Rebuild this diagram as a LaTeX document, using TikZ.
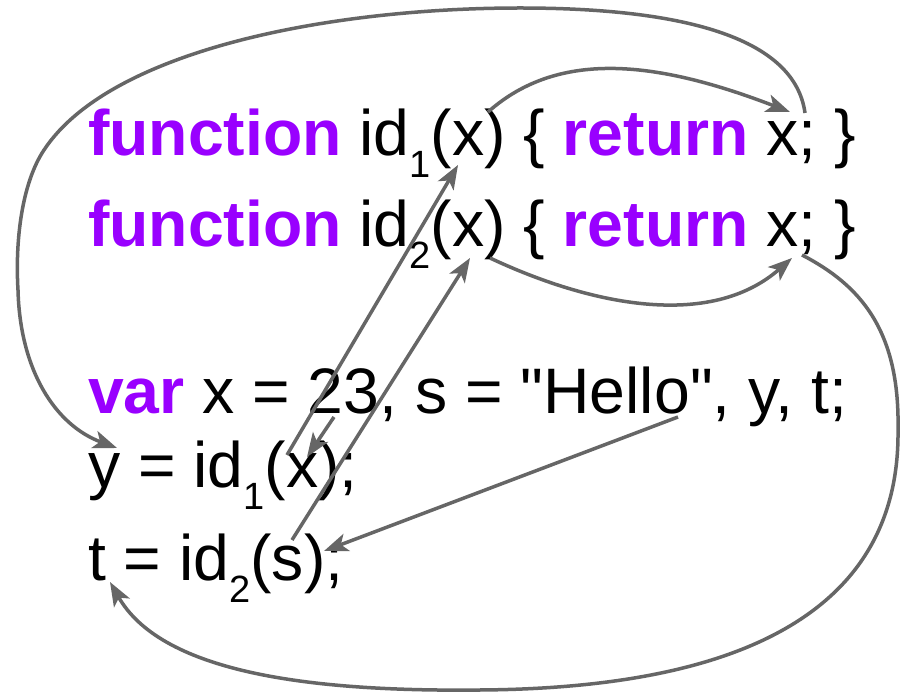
\documentclass[tikz,border=0pt]{standalone}
\usepackage{fontspec}
\setmainfont{Liberation Sans}[Ligatures=TeXOff]
\usetikzlibrary{arrows.meta}
\definecolor{kwpurple}{HTML}{9900FF}
\definecolor{arrowgray}{HTML}{666666}
\newcommand\kw[1]{\textcolor{kwpurple}{\bfseries #1}}
\newcommand\sbs[1]{\raisebox{-22pt}{\fontsize{38}{38}\selectfont #1}}
\tikzset{
  codeline/.style={anchor=base west, inner sep=0pt, font=\fontsize{64.3}{70}\selectfont},
  flow/.style={draw=arrowgray, line width=3.5pt, -{Stealth[length=24pt,width=18pt,inset=6pt]}}
}
\begin{document}
\begin{tikzpicture}[x=1pt,y=-1pt]
\useasboundingbox (0,0) rectangle (903,692);
\fill[white] (0,0) rectangle (903,692);
% code lines
\node[codeline] (l1) at (88,156) {\kw{function} id\sbs{1}(x) \{ \kw{return} x; \}};
\node[codeline] (l2) at (88,247) {\kw{function} id\sbs{2}(x) \{ \kw{return} x; \}};
\node[codeline] (l3) at (88,414) {\kw{var} x = 23, s = "Hello", y, t;};
\node[codeline] (l4) at (88,488) {y = id\sbs{1}(x);};
\node[codeline] (l5) at (88,580) {t = id\sbs{2}(s);};
% anchor points
\coordinate (pxOne) at (488,112);
\coordinate (retOne) at (790,112);
\coordinate (semiOne) at (805,113);
\coordinate (yTarget) at (117,448);
\coordinate (pxTwo) at (490,258);
\coordinate (retTwo) at (792,258);
\coordinate (semiTwo) at (802,255);
\coordinate (tTarget) at (110,582);
\coordinate (argX) at (287,455);
\coordinate (paramOne) at (458,165);
\coordinate (val23) at (334,417);
\coordinate (argXin) at (307,457);
\coordinate (argS) at (292,540);
\coordinate (paramTwo) at (470,258);
\coordinate (hello) at (678,417);
\coordinate (argSin) at (324,551);
% connectors
\draw[flow] (pxOne) .. controls (560,48) and (660,62) .. (retOne);
\draw[flow] (semiOne) .. controls (795,40) and (690,8) .. (520,8)
  .. controls (330,8) and (110,50) .. (44,150)
  .. controls (22,183) and (15,240) .. (18,290)
  .. controls (20,370) and (55,425) .. (yTarget);
\draw[flow] (pxTwo) .. controls (590,305) and (710,330) .. (retTwo);
\draw[flow] (semiTwo) .. controls (860,285) and (900,330) .. (898,430)
  .. controls (900,600) and (760,688) .. (480,690)
  .. controls (300,692) and (160,670) .. (tTarget);
\draw[flow] (argX) -- (paramOne);
\draw[flow] (val23) -- (argXin);
\draw[flow] (argS) -- (paramTwo);
\draw[flow] (hello) -- (argSin);
\end{tikzpicture}
\end{document}
